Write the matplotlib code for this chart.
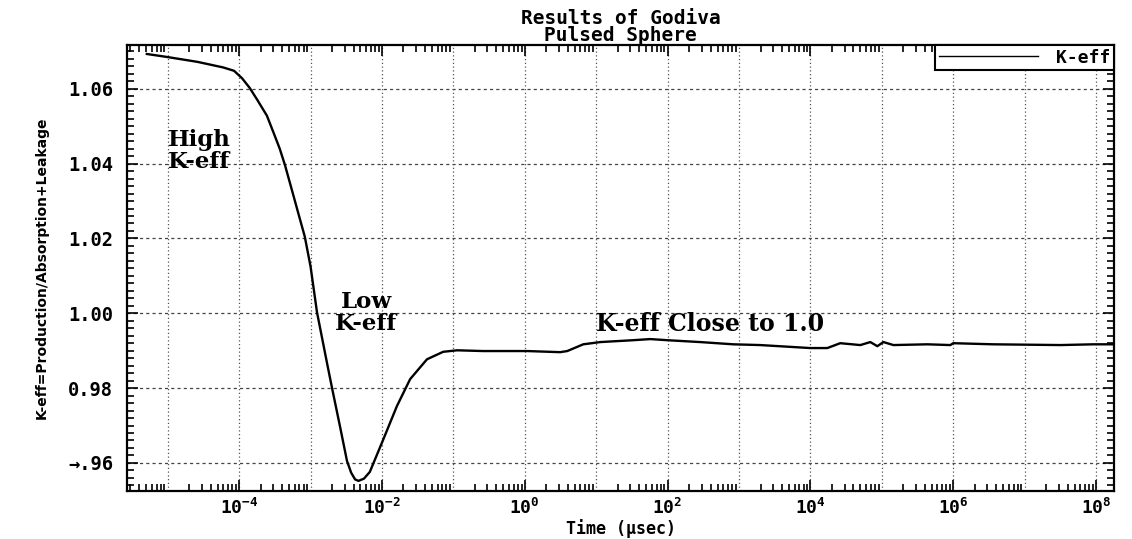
import numpy as np
import matplotlib
matplotlib.use("Agg")
import matplotlib.pyplot as plt
from matplotlib.ticker import FixedLocator, FixedFormatter, LogLocator, MultipleLocator, NullFormatter

# data (time in microseconds)
time_us = [5.1e-6, 9.8e-6, 2.6e-5, 6.0e-5, 8.5e-5, 1.10e-4, 1.41e-4, 1.80e-4, 2.45e-4,
           3.1e-4, 3.7e-4, 4.4e-4, 5.75e-4, 6.5e-4, 8.3e-4, 1.00e-3, 1.23e-3, 1.70e-3,
           2.0e-3, 2.6e-3, 3.24e-3, 3.7e-3, 4.2e-3, 4.68e-3, 5.6e-3, 6.76e-3, 1.05e-2,
           1.62e-2, 2.48e-2, 4.27e-2, 7.2e-2, 0.113, 0.261, 0.689, 1.08, 3.13, 3.93, 6.58,
           11.4, 33.0, 57.0, 98.6, 286.0, 830.0, 1980.0, 9930.0, 1.72e4, 2.61e4, 4.98e4,
           6.89e4, 8.63e4, 1.05e5, 1.45e5, 4.33e5, 9.08e5, 1.0e6, 3.63e6, 3.16e7, 9.12e7,
           1.70e8]
keff = [1.0693, 1.0685, 1.0672, 1.0657, 1.0648, 1.0628, 1.0602, 1.0570, 1.0528,
        1.0478, 1.0440, 1.0395, 1.0315, 1.0278, 1.0205, 1.0125, 1.0003, 0.9867,
        0.9800, 0.9695, 0.9605, 0.9574, 0.9556, 0.9552, 0.9558, 0.9576, 0.9664,
        0.9752, 0.9824, 0.9877, 0.9897, 0.9901, 0.9899, 0.9899, 0.9899, 0.9896, 0.9899,
        0.9917, 0.9923, 0.9928, 0.9931, 0.9928, 0.9923, 0.9917, 0.9915, 0.9907, 0.9907,
        0.9920, 0.9915, 0.9923, 0.9912, 0.9923, 0.9915, 0.9917, 0.9915, 0.9920, 0.9917,
        0.9915, 0.9917, 0.9917]

ytick_vals = [0.96, 0.98, 1.00, 1.02, 1.04, 1.06]
ytick_labels = ["→.96", "0.98", "1.00", "1.02", "1.04", "1.06"]
xtick_vals = [1e-4, 1e-2, 1e0, 1e2, 1e4, 1e6, 1e8]
xtick_labels = [r"$10^{-4}$", r"$10^{-2}$", r"$10^{0}$", r"$10^{2}$",
                r"$10^{4}$", r"$10^{6}$", r"$10^{8}$"]
grid_decades = [1e-5, 1e-4, 1e-3, 1e-2, 1e-1, 1e0, 1e1, 1e2, 1e3, 1e4, 1e5, 1e6, 1e7, 1e8]

mono = "DejaVu Sans Mono"
plt.rcParams["mathtext.fontset"] = "custom"
plt.rcParams["mathtext.rm"] = "DejaVu Sans Mono:bold"
plt.rcParams["mathtext.it"] = "DejaVu Sans Mono:bold"
plt.rcParams["mathtext.bf"] = "DejaVu Sans Mono:bold"

fig = plt.figure(figsize=(11.32, 5.39), dpi=100)
ax = fig.add_axes([0.1122, 0.0891, 0.8719, 0.8274])

ax.plot(time_us, keff, color="black", lw=1.7, label="K-eff")

ax.set_xscale("log")
ax.set_xlim(10**-5.57, 10**8.25)
ax.set_ylim(0.9525, 1.0717)

# grid
for g in grid_decades:
    ax.axvline(g, color="#555555", lw=0.9, ls=(0, (1, 2)), zorder=0)
for v in ytick_vals:
    ax.axhline(v, color="#444444", lw=0.9, ls=(0, (2.5, 2.5)), zorder=0)

# ticks
ax.xaxis.set_major_locator(LogLocator(base=10, numticks=30))
ax.xaxis.set_minor_locator(LogLocator(base=10, subs=np.arange(2, 10), numticks=30))
ax.xaxis.set_minor_formatter(NullFormatter())
ax.set_xticks(xtick_vals, minor=False)
ax.set_xticklabels(xtick_labels)
ax.yaxis.set_major_locator(FixedLocator(ytick_vals))
ax.yaxis.set_major_formatter(FixedFormatter(ytick_labels))
ax.yaxis.set_minor_locator(MultipleLocator(0.002))

ax.tick_params(which="both", direction="in", top=True, right=True, width=1.2)
ax.tick_params(which="major", length=8)
ax.tick_params(which="minor", length=5)
ax.tick_params(axis="y", which="major", pad=10)
ax.tick_params(axis="x", which="major", pad=5)
for lab in ax.get_yticklabels():
    lab.set_fontfamily(mono)
    lab.set_fontweight("bold")
    lab.set_fontsize(13.5)
for lab in ax.get_xticklabels():
    lab.set_fontsize(13)

for sp in ax.spines.values():
    sp.set_linewidth(1.6)

ax.set_title("Results of Godiva\nPulsed Sphere", fontfamily=mono, fontweight="bold",
             fontsize=14, pad=2, linespacing=0.9)
ax.set_xlabel("Time (μsec)", fontfamily=mono, fontweight="bold", fontsize=12, labelpad=1)
ax.set_ylabel("K-eff=Production/Absorption+Leakage", fontfamily="DejaVu Sans",
              fontweight="bold", fontsize=10, labelpad=14)

serif = "DejaVu Serif"
ax.text(10**-5.0, 1.0435, "High\nK-eff", fontfamily=serif, fontweight="bold", fontsize=16.5,
        ha="left", va="center", linespacing=1.0)
ax.text(10**-2.22, 1.0, "Low\nK-eff", fontfamily=serif, fontweight="bold", fontsize=16.5,
        ha="center", va="center", linespacing=1.0)
ax.text(10**0.99, 0.9953, "K-eff Close to 1.0", fontfamily=serif, fontweight="bold",
        fontsize=17, ha="left", va="baseline")

leg = ax.legend(loc="upper right", borderaxespad=0, fancybox=False, handlelength=5.5,
                prop={"family": mono, "weight": "bold", "size": 13},
                borderpad=0.2, handletextpad=1.0)
leg.get_frame().set_edgecolor("black")
leg.get_frame().set_linewidth(1.5)
leg.get_frame().set_alpha(1)
leg.legend_handles[0].set_linewidth(1.0)

fig.savefig("out.png", dpi=100)
